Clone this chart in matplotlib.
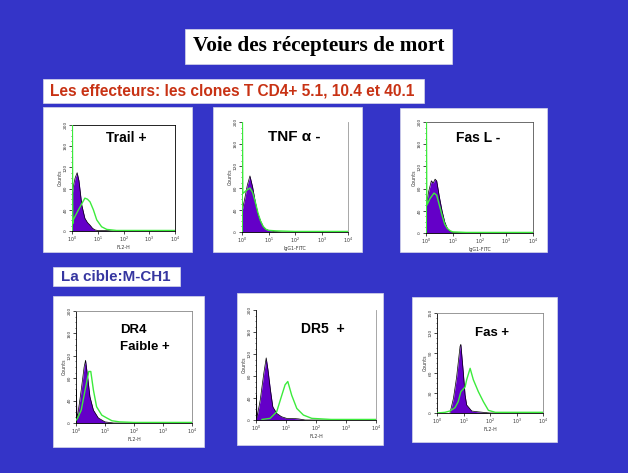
import matplotlib
matplotlib.use("Agg")
import matplotlib.pyplot as plt
from matplotlib.patches import Rectangle
from matplotlib.ticker import LogLocator, NullFormatter, FixedLocator

W, H = 628, 473

# histogram data: position in decades (log10 of channel)
# and counts. "iso" = filled purple control, "mk" = green marker curve
trail_iso_dec = [0.0, 0.012, 0.05, 0.12, 0.2, 0.27, 0.33, 0.38, 0.5, 0.6, 0.7, 0.8, 0.9, 1.0, 1.3, 1.6, 4.0]
trail_iso_cnt = [0, 70, 84, 100, 110, 95, 70, 49, 24, 16, 11, 5, 2, 1, 1, 0, 0]
trail_mk_dec = [0.012, 0.012, 0.03, 0.05, 0.25, 0.5, 0.6, 0.7, 0.83, 0.96, 1.15, 1.35, 1.73, 2.0, 4.0]
trail_mk_cnt = [0, 230, 14, 21, 40, 62, 60, 55, 40, 21, 8, 3, 1, 1, 1]

tnf_iso_dec = [0.0, 0.012, 0.1, 0.2, 0.3, 0.4, 0.5, 0.6, 0.7, 0.8, 0.9, 1.0, 1.2, 1.5, 4.0]
tnf_iso_cnt = [0, 40, 60, 85, 102, 82, 55, 33, 20, 10, 5, 3, 1, 0, 0]
tnf_mk_dec = [0.012, 0.012, 0.03, 0.15, 0.3, 0.4, 0.5, 0.6, 0.7, 0.8, 0.9, 1.0, 1.3, 2.0, 3.0, 4.0]
tnf_mk_cnt = [0, 230, 70, 75, 80, 72, 55, 35, 20, 10, 5, 3, 2, 1, 1, 1]

fasl_iso_dec = [0.0, 0.012, 0.1, 0.2, 0.27, 0.34, 0.4, 0.5, 0.6, 0.7, 0.8, 0.9, 1.0, 1.5, 4.0]
fasl_iso_cnt = [0, 50, 75, 94, 90, 97, 94, 65, 40, 20, 8, 3, 1, 0, 0]
fasl_mk_dec = [0.012, 0.012, 0.03, 0.15, 0.3, 0.4, 0.5, 0.6, 0.7, 0.8, 0.9, 1.0, 1.5, 4.0]
fasl_mk_cnt = [0, 230, 50, 62, 72, 68, 50, 32, 16, 8, 4, 2, 1, 1]

dr4_iso_dec = [0.012, 0.012, 0.03, 0.07, 0.18, 0.28, 0.33, 0.4, 0.48, 0.6, 0.77, 1.0, 1.3, 4.0]
dr4_iso_cnt = [0, 59, 10, 18, 59, 100, 112, 83, 47, 23, 9, 2, 0, 0]
dr4_mk_dec = [0.0, 0.05, 0.18, 0.36, 0.44, 0.51, 0.6, 0.71, 0.89, 1.06, 1.24, 1.5, 2.0, 4.0]
dr4_mk_cnt = [5, 8, 23, 71, 92, 92, 59, 29, 14, 9, 4, 2, 1, 1]

dr5_iso_dec = [0.012, 0.012, 0.03, 0.14, 0.26, 0.34, 0.4, 0.48, 0.56, 0.69, 0.85, 1.02, 1.2, 1.42, 1.64, 4.0]
dr5_iso_cnt = [0, 45, 4, 36, 85, 113, 91, 55, 24, 12, 6, 3, 3, 2, 0, 0]
dr5_mk_dec = [0.2, 0.47, 0.69, 0.86, 0.97, 1.06, 1.19, 1.36, 1.58, 1.86, 2.5, 4.0]
dr5_mk_cnt = [1, 3, 15, 45, 64, 70, 45, 21, 9, 3, 1, 1]

fas_iso_dec = [0.49, 0.62, 0.74, 0.87, 0.9, 0.99, 1.06, 1.12, 1.31, 1.5, 1.75, 2.0, 4.0]
fas_iso_cnt = [0, 22, 54, 100, 103, 62, 27, 12, 3, 2, 1, 0, 0]
fas_mk_dec = [0.0, 0.3, 0.49, 0.68, 0.8, 0.9, 1.06, 1.12, 1.25, 1.37, 1.56, 1.75, 1.94, 2.2, 2.5, 4.0]
fas_mk_cnt = [0, 1, 3, 8, 17, 32, 39, 50, 67, 50, 32, 17, 4, 1, 1, 1]

panel_labels = ["Trail +", "TNF \u03b1 -", "Fas L -", "DR4\nFaible +", "DR5  +", "Fas +"]
panel_xlabels = ["FL2-H", "IgG1-FITC", "IgG1-FITC", "FL2-H", "FL2-H", "FL2-H"]
panel_ymax = [200, 200, 200, 200, 200, 150]

BLUE = "#3434C8"
PURPLE = "#6400C8"
GREEN = "#3CEB3C"

fig = plt.figure(figsize=(W / 100, H / 100), dpi=100, facecolor=BLUE)


def px_box(x0, y0, x1, y1, color="white"):
    fig.add_artist(Rectangle((x0 / W, 1 - y1 / H), (x1 - x0) / W, (y1 - y0) / H,
                             transform=fig.transFigure, facecolor=color,
                             edgecolor="#d8d8e8", lw=0.5, zorder=-1))


def px_text(x, y, s, **kw):
    fig.text(x / W, 1 - y / H, s, **kw)


# title boxes
px_box(185, 29, 452, 64)
px_text(319, 46, "Voie des r\u00e9cepteurs de mort", family="Liberation Serif",
        weight="bold", fontsize=15.3, ha="center", va="center")
px_box(43, 79, 424, 103)
px_text(50, 91.5, "Les effecteurs: les clones T CD4+ 5.1, 10.4 et 40.1",
        family="Liberation Sans", weight="bold", fontsize=11.2, color="#C83214",
        ha="left", va="center")
px_box(53, 267, 180, 286)
px_text(61, 277, "La cible:M-CH1", family="Liberation Sans", weight="bold",
        fontsize=10.9, color="#3636A0", ha="left", va="center")

# white panels behind each histogram
panel_boxes = [(43, 107, 192, 252), (213, 107, 362, 252), (400, 108, 547, 252),
               (53, 296, 204, 447), (237, 293, 383, 445), (412, 297, 557, 442)]
axes_px = [(72, 125, 175, 231), (242, 122, 348, 232), (426, 122, 533, 233),
           (76, 311, 192, 423), (256, 310, 376, 420), (437, 313, 543, 413)]
label_px = [(126, 138), (294, 137), (478, 138), (120, 324), (323, 329), (492, 333)]
label_size = [10, 11, 10, 9.5, 10, 9.5]
# top / right frame colour of each panel (None = not drawn)
frame_col = ["black", None, "#555555", "#888888", None, "#888888"]

data = [
    (trail_iso_dec, trail_iso_cnt, trail_mk_dec, trail_mk_cnt),
    (tnf_iso_dec, tnf_iso_cnt, tnf_mk_dec, tnf_mk_cnt),
    (fasl_iso_dec, fasl_iso_cnt, fasl_mk_dec, fasl_mk_cnt),
    (dr4_iso_dec, dr4_iso_cnt, dr4_mk_dec, dr4_mk_cnt),
    (dr5_iso_dec, dr5_iso_cnt, dr5_mk_dec, dr5_mk_cnt),
    (fas_iso_dec, fas_iso_cnt, fas_mk_dec, fas_mk_cnt),
]

for i in range(6):
    px_box(*panel_boxes[i])
    l, t, r, b = axes_px[i]
    ax = fig.add_axes([l / W, 1 - b / H, (r - l) / W, (b - t) / H])
    ax.set_facecolor("white")
    iso_d, iso_c, mk_d, mk_c = data[i]
    iso_x = [10 ** d for d in iso_d]
    mk_x = [10 ** d for d in mk_d]
    ax.fill_between(iso_x, iso_c, color=PURPLE, lw=0)
    # draw outlines above the spines so the first-channel spikes show
    ax.plot(iso_x, iso_c, color="black", lw=0.5, zorder=3)
    ax.plot(mk_x, mk_c, color=GREEN, lw=1.0, zorder=3.5)
    ax.set_xscale("log")
    ax.set_xlim(1, 10000)
    ymax = panel_ymax[i]
    ax.set_ylim(0, ymax)
    ax.yaxis.set_major_locator(FixedLocator([ymax * k / 5 for k in range(6)]))
    ax.set_yticklabels([str(int(ymax * k / 5)) for k in range(6)], rotation=90,
                       va="center", fontsize=3.2, color="#333333")
    ax.yaxis.set_minor_locator(FixedLocator([ymax * k / 20 for k in range(21)]))
    ax.set_xticks([1, 10, 100, 1000, 10000])
    ax.set_xticklabels(["$10^0$", "$10^1$", "$10^2$", "$10^3$", "$10^4$"],
                       fontsize=3.4, color="#333333")
    ax.xaxis.set_minor_locator(LogLocator(base=10, subs=range(2, 10)))
    ax.xaxis.set_minor_formatter(NullFormatter())
    ax.tick_params(which="major", length=2, width=0.5, pad=1)
    ax.tick_params(which="minor", length=1, width=0.4)
    ax.set_xlabel(panel_xlabels[i], fontsize=3.4, labelpad=0.5, color="#333333")
    ax.set_ylabel("Counts", fontsize=3.4, labelpad=1, color="#333333")
    for s in ax.spines.values():
        s.set_linewidth(0.6)
    if frame_col[i] is None:
        ax.spines["top"].set_visible(False)
        ax.spines["right"].set_color("#999999")
    else:
        ax.spines["top"].set_color(frame_col[i])
        ax.spines["right"].set_color(frame_col[i])
    lx, ly = label_px[i]
    px_text(lx, ly, panel_labels[i], family="Liberation Sans", weight="bold",
            fontsize=label_size[i], ha="center" if i != 3 else "left",
            va="center" if i != 3 else "top", linespacing=1.6)

fig.savefig("out.png", dpi=100, facecolor=BLUE)
